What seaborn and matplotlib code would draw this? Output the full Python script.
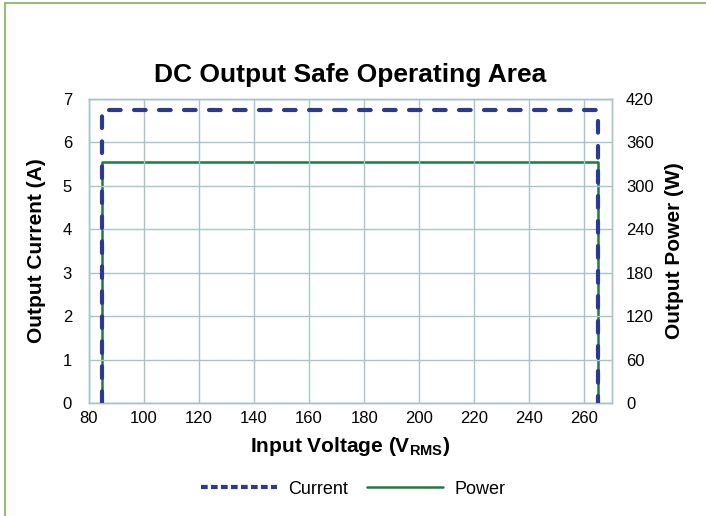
import matplotlib
matplotlib.use("Agg")
import matplotlib.pyplot as plt
import seaborn as sns
import pandas as pd
from matplotlib.lines import Line2D

sns.set_theme(style="white")
plt.rcParams['font.family'] = ['Liberation Sans', 'DejaVu Sans']
plt.rcParams['text.color'] = 'black'
plt.rcParams['axes.labelcolor'] = 'black'
plt.rcParams['mathtext.fontset'] = 'custom'
plt.rcParams['mathtext.rm'] = 'Liberation Sans:weight=bold'
plt.rcParams['mathtext.bf'] = 'Liberation Sans:weight=bold'
plt.rcParams['mathtext.default'] = 'rm'

# Data
current_voltage = [85, 85, 265, 265]
current_amps = [0, 6.75, 6.75, 0]
power_voltage = [85, 85, 265, 265]
power_watts = [0, 333, 333, 0]
x_ticks = [80, 100, 120, 140, 160, 180, 200, 220, 240, 260]
y_ticks_current = [0, 1, 2, 3, 4, 5, 6, 7]
y_ticks_power = [0, 60, 120, 180, 240, 300, 360, 420]

df_c = pd.DataFrame({"v": current_voltage, "a": current_amps})
df_p = pd.DataFrame({"v": power_voltage, "w": power_watts})

blue = "#2b3990"
green = "#1e7b3a"
grid_c = "#a8c3cb"

fig = plt.figure(figsize=(7.06, 5.16), dpi=100)
ax = fig.add_axes([0.1256, 0.219, 0.7413, 0.5891])
ax2 = ax.twinx()

sns.lineplot(data=df_c, x="v", y="a", sort=False, estimator=None, errorbar=None,
             ax=ax, color=blue, linewidth=3, zorder=3)
ln = ax.lines[-1]
ln.set_dashes((2.8, 3.2))
ln.set_dash_capstyle('round')
ln.set_solid_joinstyle('round')

sns.lineplot(data=df_p, x="v", y="w", sort=False, estimator=None, errorbar=None,
             ax=ax2, color=green, linewidth=1.8, zorder=2)

ax.set_zorder(ax2.get_zorder() + 1)
ax.patch.set_visible(False)

ax.set_xlim(80, 270)
ax.set_ylim(0, 7)
ax2.set_ylim(0, 420)
ax.set_xticks(x_ticks)
ax.set_yticks(y_ticks_current)
ax2.set_yticks(y_ticks_power)
ax.set_xticklabels([str(t) for t in x_ticks])
ax.set_yticklabels([str(t) for t in y_ticks_current])
ax2.set_yticklabels([str(t) for t in y_ticks_power])

ax2.grid(False)
ax.grid(True, color=grid_c, linewidth=1)
ax.set_axisbelow(True)
for a in (ax, ax2):
    for s in a.spines.values():
        s.set_color(grid_c)
        s.set_linewidth(1)
    a.tick_params(length=0, labelsize=12, colors="black")
ax.tick_params(axis='y', pad=12)
ax2.tick_params(axis='y', pad=10)
ax.tick_params(axis='x', pad=6)

fam = ['Liberation Sans', 'DejaVu Sans']
ax.set_xlabel("Input Voltage (V$_{\\mathbf{RMS}}$)", fontsize=15, fontweight="bold",
              labelpad=6, family=fam)
ax.set_ylabel("Output Current (A)", fontsize=15, fontweight="bold", labelpad=12, family=fam)
ax2.set_ylabel("Output Power (W)", fontsize=15, fontweight="bold", labelpad=8, family=fam)
ax.set_title("DC Output Safe Operating Area", fontsize=19, fontweight="bold", pad=12,
             family=fam)

handles = [
    Line2D([0], [0], color=blue, linewidth=3, dashes=(1.6, 0.8), dash_capstyle='butt'),
    Line2D([0], [0], color=green, linewidth=1.8),
]
fig.legend(handles, ["Current", "Power"], loc="center", bbox_to_anchor=(0.5, 0.052),
           ncol=2, frameon=False, fontsize=13, handlelength=4.2, columnspacing=1.1,
           handletextpad=0.6)

# green figure border (top and left)
fig.add_artist(Line2D([5 / 706, 1.0], [1 - 3 / 516, 1 - 3 / 516], transform=fig.transFigure,
                      color="#7cb854", linewidth=1.2))
fig.add_artist(Line2D([5 / 706, 5 / 706], [0, 1 - 3 / 516], transform=fig.transFigure,
                      color="#7cb854", linewidth=1.2))

fig.savefig("out.png", dpi=100)
